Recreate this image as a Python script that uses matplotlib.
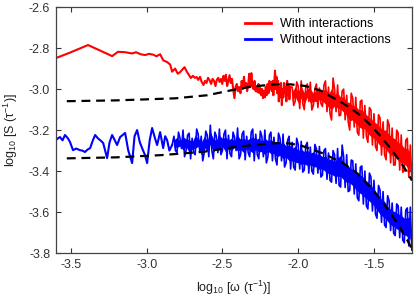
import numpy as np
import matplotlib
matplotlib.use("Agg")
import matplotlib.pyplot as plt

plt.rcParams['font.family'] = ['Liberation Sans', 'DejaVu Sans']
plt.rcParams['axes.unicode_minus'] = False
plt.rcParams['mathtext.default'] = 'regular'

# ---- red series ("With interactions"): sparse low-frequency part ----
red_x = [-3.600, -3.506, -3.387, -3.307, -3.228, -3.189, -3.142, -3.096, -3.070, -3.040,
         -3.010, -2.985, -2.957, -2.935, -2.911, -2.890, -2.865, -2.845, -2.832, -2.812,
         -2.795, -2.779, -2.765, -2.750, -2.735, -2.722, -2.708, -2.695, -2.683, -2.670,
         -2.660, -2.648, -2.637, -2.625, -2.615, -2.605, -2.595, -2.585, -2.575, -2.565,
         -2.555, -2.546, -2.537, -2.528, -2.519, -2.510, -2.501, -2.493, -2.485, -2.477,
         -2.469, -2.461, -2.453, -2.445, -2.437, -2.429, -2.421, -2.413, -2.405, -2.397,
         -2.389, -2.381, -2.373, -2.366, -2.358, -2.351, -2.344, -2.337, -2.330, -2.323,
         -2.316, -2.309, -2.302, -2.295, -2.288, -2.281, -2.275, -2.268, -2.262, -2.256,
         -2.250, -2.244, -2.238, -2.232, -2.226, -2.220, -2.214, -2.208, -2.202, -2.196,
         -2.190, -2.185, -2.180, -2.174, -2.169, -2.164, -2.158, -2.153, -2.148, -2.143,
         -2.138, -2.133, -2.128, -2.123, -2.118, -2.113, -2.108, -2.103, -2.098, -2.093,
         -2.088, -2.083, -2.078, -2.073, -2.068, -2.063, -2.058, -2.053]
red_y = [-2.849, -2.822, -2.785, -2.812, -2.839, -2.818, -2.820, -2.826, -2.820, -2.830,
         -2.834, -2.828, -2.832, -2.840, -2.830, -2.860, -2.868, -2.880, -2.915, -2.900,
         -2.925, -2.917, -2.905, -2.893, -2.915, -2.930, -2.946, -2.935, -2.945, -2.941,
         -2.955, -2.940, -2.965, -2.980, -2.960, -2.970, -2.945, -2.956, -2.975, -2.950,
         -2.960, -2.985, -2.955, -2.945, -2.965, -2.950, -2.975, -2.935, -2.960, -2.930,
         -2.985, -2.960, -2.932, -2.970, -2.950, -3.000, -3.044, -2.990, -2.975, -3.010,
         -2.990, -3.020, -2.960, -3.000, -2.940, -2.990, -2.970, -3.010, -2.980, -2.925,
         -2.990, -2.922, -2.985, -3.000, -2.960, -3.010, -2.990, -3.015, -2.975, -3.020,
         -2.995, -3.030, -3.000, -3.044, -3.010, -3.040, -2.990, -3.030, -2.975, -3.020,
         -2.960, -3.000, -2.980, -3.010, -2.960, -3.030, -2.970, -2.910, -3.000, -2.940,
         -3.020, -2.960, -3.060, -2.990, -3.040, -2.970, -3.078, -3.000, -3.040, -2.970,
         -3.020, -2.990, -3.060, -2.960, -3.030, -2.985, -3.050, -2.990]

# red dense high-frequency part: (x, upper, lower)
red_dx = [-2.04, -2.02, -2.00, -1.98, -1.96, -1.94, -1.92, -1.90, -1.88, -1.86,
          -1.84, -1.82, -1.80, -1.78, -1.76, -1.74, -1.72, -1.70, -1.68, -1.66,
          -1.64, -1.62, -1.60, -1.58, -1.56, -1.54, -1.52, -1.50, -1.48, -1.46,
          -1.44, -1.42, -1.40, -1.38, -1.36, -1.34, -1.32, -1.30, -1.28, -1.26]
red_hi = [-2.990, -2.965, -2.985, -2.960, -2.990, -2.975, -2.966, -3.000, -2.975, -2.995,
          -2.980, -2.960, -2.990, -2.946, -3.000, -2.980, -3.010, -3.000, -3.030, -3.020,
          -3.045, -3.040, -3.060, -3.054, -3.080, -3.090, -3.102, -3.120, -3.125, -3.141,
          -3.160, -3.150, -3.176, -3.190, -3.200, -3.215, -3.224, -3.250, -3.240, -3.273]
red_lo = [-3.080, -3.060, -3.095, -3.070, -3.100, -3.060, -3.102, -3.080, -3.090, -3.070,
          -3.085, -3.110, -3.120, -3.151, -3.110, -3.130, -3.127, -3.150, -3.160, -3.200,
          -3.185, -3.210, -3.225, -3.239, -3.230, -3.260, -3.273, -3.280, -3.300, -3.322,
          -3.320, -3.345, -3.360, -3.371, -3.370, -3.395, -3.405, -3.400, -3.430, -3.444]

# ---- blue series ("Without interactions"): sparse part ----
blue_x = [-3.600, -3.585, -3.572, -3.555, -3.539, -3.520, -3.506, -3.486, -3.465, -3.440,
          -3.425, -3.407, -3.390, -3.373, -3.355, -3.340, -3.322, -3.307, -3.287, -3.261,
          -3.245, -3.228, -3.210, -3.195, -3.175, -3.160, -3.142, -3.122, -3.096, -3.080,
          -3.063, -3.045, -3.030, -3.012, -2.997, -2.980, -2.964, -2.945, -2.931, -2.911,
          -2.891, -2.878, -2.865, -2.850, -2.832]
blue_y = [-3.249, -3.240, -3.234, -3.250, -3.224, -3.240, -3.258, -3.298, -3.290, -3.298,
          -3.300, -3.307, -3.295, -3.288, -3.250, -3.224, -3.240, -3.249, -3.263, -3.337,
          -3.260, -3.224, -3.250, -3.273, -3.234, -3.225, -3.214, -3.298, -3.361, -3.230,
          -3.200, -3.260, -3.288, -3.320, -3.361, -3.250, -3.190, -3.240, -3.273, -3.210,
          -3.288, -3.230, -3.249, -3.300, -3.273]

# blue dense part: (x, upper, lower)
blue_dx = [-2.82, -2.80, -2.78, -2.76, -2.74, -2.72, -2.70, -2.68, -2.66, -2.64,
           -2.62, -2.60, -2.58, -2.56, -2.54, -2.52, -2.50, -2.48, -2.46, -2.44,
           -2.42, -2.40, -2.38, -2.36, -2.34, -2.32, -2.30, -2.28, -2.26, -2.24,
           -2.22, -2.20, -2.18, -2.16, -2.14, -2.12, -2.10, -2.08, -2.06, -2.04,
           -2.02, -2.00, -1.98, -1.96, -1.94, -1.92, -1.90, -1.88, -1.86, -1.84,
           -1.82, -1.80, -1.78, -1.76, -1.74, -1.72, -1.70, -1.68, -1.66, -1.64,
           -1.62, -1.60, -1.58, -1.56, -1.54, -1.52, -1.50, -1.48, -1.46, -1.44,
           -1.42, -1.40, -1.38, -1.36, -1.34, -1.32, -1.30, -1.28, -1.26]
blue_hi = [-3.230, -3.210, -3.240, -3.200, -3.225, -3.215, -3.240, -3.195, -3.220, -3.230,
           -3.205, -3.225, -3.176, -3.210, -3.230, -3.195, -3.220, -3.200, -3.225, -3.210,
           -3.235, -3.190, -3.220, -3.205, -3.230, -3.210, -3.195, -3.220, -3.205, -3.230,
           -3.200, -3.225, -3.210, -3.235, -3.215, -3.240, -3.220, -3.250, -3.230, -3.260,
           -3.240, -3.270, -3.255, -3.275, -3.260, -3.283, -3.270, -3.290, -3.280, -3.300,
           -3.290, -3.312, -3.300, -3.320, -3.290, -3.273, -3.330, -3.320, -3.346, -3.350,
           -3.365, -3.381, -3.375, -3.400, -3.410, -3.429, -3.445, -3.470, -3.493, -3.500,
           -3.520, -3.545, -3.556, -3.560, -3.570, -3.576, -3.590, -3.580, -3.576]
blue_lo = [-3.300, -3.310, -3.290, -3.330, -3.300, -3.340, -3.310, -3.320, -3.300, -3.350,
           -3.310, -3.330, -3.300, -3.340, -3.310, -3.320, -3.300, -3.340, -3.315, -3.330,
           -3.300, -3.340, -3.320, -3.345, -3.310, -3.330, -3.350, -3.320, -3.340, -3.330,
           -3.360, -3.330, -3.350, -3.340, -3.370, -3.350, -3.380, -3.360, -3.390, -3.380,
           -3.395, -3.390, -3.405, -3.395, -3.410, -3.400, -3.415, -3.410, -3.429, -3.420,
           -3.440, -3.445, -3.454, -3.460, -3.470, -3.478, -3.480, -3.500, -3.495, -3.512,
           -3.530, -3.545, -3.561, -3.570, -3.585, -3.595, -3.610, -3.630, -3.650, -3.663,
           -3.675, -3.690, -3.703, -3.715, -3.725, -3.737, -3.750, -3.765, -3.785]

# ---- fitted (dashed) curves ----
fit_up_x = [-3.527, -3.20, -3.00, -2.812, -2.60, -2.45, -2.30, -2.15, -2.05, -1.95,
            -1.85, -1.78, -1.72, -1.65, -1.59, -1.52, -1.45, -1.39, -1.33, -1.29, -1.25]
fit_up_y = [-3.059, -3.055, -3.050, -3.045, -3.030, -3.007, -2.987, -2.977, -2.977, -2.985,
            -3.008, -3.038, -3.062, -3.095, -3.128, -3.178, -3.235, -3.290, -3.350, -3.395, -3.445]
fit_lo_x = [-3.527, -3.20, -2.90, -2.626, -2.402, -2.184, -2.10, -2.053, -1.987, -1.835,
            -1.703, -1.610, -1.524, -1.438, -1.346, -1.280, -1.250]
fit_lo_y = [-3.338, -3.333, -3.322, -3.306, -3.281, -3.265, -3.263, -3.266, -3.274, -3.314,
            -3.362, -3.411, -3.477, -3.556, -3.654, -3.737, -3.780]

x_ticks = [-3.5, -3.0, -2.5, -2.0, -1.5]
y_ticks = [-2.6, -2.8, -3.0, -3.2, -3.4, -3.6, -3.8]


def zigzag(xs, hi, lo, step=0.01):
    """Interleave upper/lower readings; every third pair is drawn low-first
    so the teeth of the noise band are irregular."""
    zx, zy = [], []
    for i, (x, h, l) in enumerate(zip(xs, hi, lo)):
        first, second = (l, h) if i % 3 == 1 else (h, l)
        zx += [x, x + step]
        zy += [first, second]
    return np.array(zx), np.array(zy)


fig = plt.figure(figsize=(4.16, 2.97), dpi=100)
ax = fig.add_axes([0.134, 0.148, 0.856, 0.828])

RED = '#ff0000'
BLUE = '#0000ff'

rzx, rzy = zigzag(red_dx, red_hi, red_lo)
bzx, bzy = zigzag(blue_dx, blue_hi, blue_lo)

# solid core of the dense noise bands
r_hi, r_lo = np.array(red_hi), np.array(red_lo)
b_hi, b_lo = np.array(blue_hi), np.array(blue_lo)
ax.fill_between(red_dx, r_hi + 0.25 * (r_lo - r_hi), r_lo - 0.25 * (r_lo - r_hi),
                color=RED, lw=0)
ax.fill_between(blue_dx, b_hi + 0.25 * (b_lo - b_hi), b_lo - 0.25 * (b_lo - b_hi),
                color=BLUE, lw=0)

ax.plot(red_x, red_y, color=RED, lw=1.5, label='With interactions')
ax.plot(np.concatenate([red_x[-1:], rzx]), np.concatenate([red_y[-1:], rzy]),
        color=RED, lw=1.2)
ax.plot(blue_x, blue_y, color=BLUE, lw=1.5, label='Without interactions')
ax.plot(np.concatenate([blue_x[-1:], bzx]), np.concatenate([blue_y[-1:], bzy]),
        color=BLUE, lw=1.2)
ax.plot(fit_up_x, fit_up_y, color='black', lw=1.6, ls=(0, (4, 2.6)))
ax.plot(fit_lo_x, fit_lo_y, color='black', lw=1.6, ls=(0, (4, 2.6)))

ax.set_xlim(-3.6, -1.25)
ax.set_ylim(-3.8, -2.6)
ax.set_xticks(x_ticks)
ax.set_xticklabels([f"{t:.1f}" for t in x_ticks])
ax.set_yticks(y_ticks)
ax.set_yticklabels([f"{t:.1f}" for t in y_ticks])
ax.tick_params(direction='in', top=True, right=True, length=3.5, width=0.8,
               labelsize=9, colors='#333333', pad=4)
for s in ax.spines.values():
    s.set_color('#444444')
    s.set_linewidth(0.9)

ax.set_xlabel(r'log$_{10}$ [ω (τ$^{-1}$)]', fontsize=9, color='#222222', labelpad=6)
ax.set_ylabel(r'log$_{10}$ [S (τ$^{-1}$)]', fontsize=9, color='#222222', labelpad=6)

leg = ax.legend(loc='upper right', bbox_to_anchor=(0.955, 0.975), frameon=False,
                fontsize=9, handlelength=2.1, handletextpad=0.7, borderaxespad=0.0,
                labelspacing=0.3)
for line in leg.get_lines():
    line.set_linewidth(2.0)

fig.savefig('out.png', dpi=100)
